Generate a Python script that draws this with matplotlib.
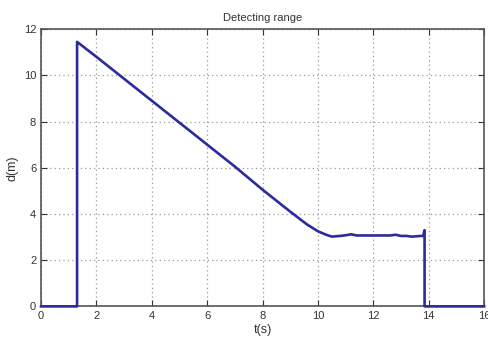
import matplotlib
matplotlib.use("Agg")
import matplotlib.pyplot as plt

t = [0, 1.3, 1.3, 2, 3, 4, 5, 6, 7, 8, 9, 9.6, 10.0, 10.3, 10.5, 10.8,
     11.0, 11.2, 11.4, 12.0, 12.6, 12.8, 13.0, 13.2, 13.4, 13.7, 13.8,
     13.85, 13.85, 16]
d = [0, 0, 11.45, 10.8, 9.85, 8.9, 7.95, 7.0, 6.05, 5.05, 4.1, 3.55, 3.25,
     3.1, 3.02, 3.05, 3.08, 3.12, 3.07, 3.07, 3.07, 3.1, 3.05, 3.05, 3.02,
     3.05, 3.05, 3.3, 0, 0]

xticks = [0, 2, 4, 6, 8, 10, 12, 14, 16]
yticks = [0, 2, 4, 6, 8, 10, 12]

plt.rcParams['font.family'] = ['Liberation Sans', 'DejaVu Sans']

fig = plt.figure(figsize=(4.89, 3.47), dpi=100)
ax = fig.add_axes([0.084, 0.117, 0.906, 0.799])

ax.plot(t, d, color='#2b2b9e', lw=1.9, clip_on=False, zorder=5)

ax.set_xlim(0, 16)
ax.set_ylim(0, 12)
ax.set_xticks(xticks)
ax.set_yticks(yticks)
ax.grid(True, linestyle=(0, (1, 2.5)), color='#999999', lw=0.9)
ax.tick_params(direction='in', top=True, right=True, labelsize=8,
               colors='#333333', length=4)
for s in ax.spines.values():
    s.set_color('#555555')
    s.set_linewidth(1.2)
    s.set_zorder(3)

ax.set_title('Detecting range', fontsize=8, color='#333333', pad=6)
ax.set_xlabel('t(s)', fontsize=9, color='#333333', labelpad=2)
ax.set_ylabel('d(m)', fontsize=9, color='#333333', labelpad=4)

fig.savefig('out.png', dpi=100)
